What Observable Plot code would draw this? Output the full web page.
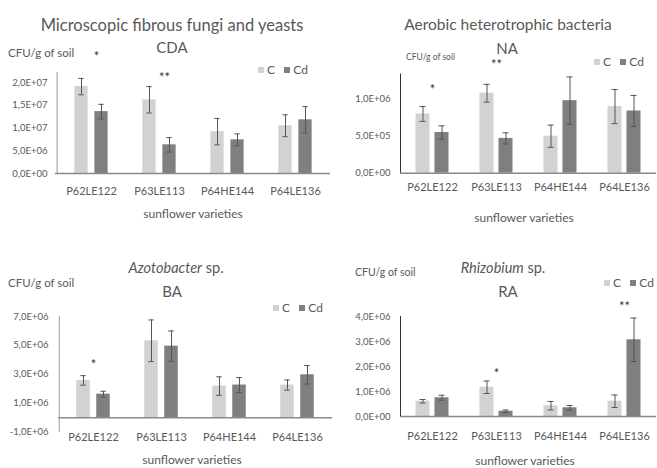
<!DOCTYPE html>
<html>
<head>
<meta charset="utf-8">
<script src="https://cdn.jsdelivr.net/npm/d3@7"></script>
<script src="https://cdn.jsdelivr.net/npm/@observablehq/plot@0.6"></script>
<style>
  html, body { margin: 0; padding: 0; background: #fff; }
  #c { position: relative; width: 657px; height: 468px; overflow: hidden; background: #fff; font-family: Lato, "Open Sans", sans-serif; color: #595959; }
  .t { position: absolute; white-space: nowrap; line-height: 1; }
  .plot { position: absolute; }
  .sw { display: inline-block; width: 6px; height: 6px; margin-right: 3px; vertical-align: 1px; }
</style>
</head>
<body>
<div id="c"></div>
<script>
// ---------- data ----------
const varieties = ["P62LE122", "P63LE113", "P64HE144", "P64LE136"];
const series = ["C", "Cd"];

// Microscopic fibrous fungi and yeasts (CDA)
const CDA_C     = [1.91e7, 1.62e7, 9.2e6, 1.05e7];
const CDA_C_err = [1.8e6, 2.9e6, 2.9e6, 2.4e6];
const CDA_Cd    = [1.36e7, 6.3e6, 7.4e6, 1.18e7];
const CDA_Cd_err= [1.6e6, 1.6e6, 1.3e6, 2.9e6];
const CDA_ticks = [0, 5e6, 1e7, 1.5e7, 2e7];
const CDA_stars = [{variety: "P62LE122", y: 2.62e7, label: "*"}, {variety: "P63LE113", y: 2.16e7, label: "**"}];

// Aerobic heterotrophic bacteria (NA)
const NA_C      = [0.80e6, 1.08e6, 0.50e6, 0.90e6];
const NA_C_err  = [0.10e6, 0.12e6, 0.15e6, 0.23e6];
const NA_Cd     = [0.55e6, 0.47e6, 0.98e6, 0.84e6];
const NA_Cd_err = [0.09e6, 0.075e6, 0.32e6, 0.21e6];
const NA_ticks  = [0, 5e5, 1e6];
const NA_stars  = [{variety: "P62LE122", y: 1.17e6, label: "*"}, {variety: "P63LE113", y: 1.50e6, label: "**"}];

// Azotobacter sp. (BA)
const BA_C      = [2.58e6, 5.32e6, 2.19e6, 2.26e6];
const BA_C_err  = [0.33e6, 1.44e6, 0.64e6, 0.35e6];
const BA_Cd     = [1.63e6, 4.95e6, 2.26e6, 2.97e6];
const BA_Cd_err = [0.20e6, 1.05e6, 0.52e6, 0.64e6];
const BA_ticks  = [-1e6, 1e6, 3e6, 5e6, 7e6];
const BA_stars  = [{variety: "P62LE122", y: 3.87e6, label: "*"}];

// Rhizobium sp. (RA)
const RA_C      = [0.61e6, 1.17e6, 0.43e6, 0.61e6];
const RA_C_err  = [0.07e6, 0.25e6, 0.17e6, 0.25e6];
const RA_Cd     = [0.75e6, 0.21e6, 0.35e6, 3.07e6];
const RA_Cd_err = [0.10e6, 0.05e6, 0.09e6, 0.87e6];
const RA_ticks  = [0, 1e6, 2e6, 3e6, 4e6];
const RA_stars  = [{variety: "P63LE113", y: 1.84e6, label: "*"}, {variety: "P64LE136", y: 4.52e6, label: "**"}];

const unitLabel = "CFU/g of soil";
const xTitle = "sunflower varieties";

// ---------- helpers ----------
const FONT = 'Lato, "Open Sans", sans-serif';
const colC = "#d2d2d2", colCd = "#7f7f7f";
const root = document.getElementById("c");

function sci(v) {
  if (v === 0) return "0,0E+00";
  const s = v < 0 ? "-" : "";
  const a = Math.abs(v);
  const e = Math.floor(Math.log10(a) + 1e-9);
  const m = a / Math.pow(10, e);
  return s + m.toFixed(1).replace(".", ",") + "E" + (e < 0 ? "-" : "+") + String(Math.abs(e)).padStart(2, "0");
}

function text(html, x, y, size, opts = {}) {
  const d = document.createElement("div");
  d.className = "t";
  d.innerHTML = html;
  d.style.left = x + "px";
  d.style.top = y + "px";
  d.style.fontSize = size + "px";
  d.style.transform = opts.left ? "translate(0,-50%)" : "translate(-50%,-50%)";
  if (opts.color) d.style.color = opts.color;
  root.appendChild(d);
}

function legend(x, y) {
  text(`<span class="sw" style="background:${colC}"></span>${series[0]}&nbsp;&nbsp;&nbsp;<span class="sw" style="background:${colCd}"></span>${series[1]}`, x, y, 12, {left: true});
}

function rows(vals, errs) {
  return varieties.map((v, i) => ({variety: v, value: vals[i], err: errs[i]}));
}

function panel(cfg) {
  const {left, top, width, height, ml, mr, mt, mb, domain, ticks, C, Cerr, Cd, Cderr, stars,
         off, labPad, tickPad, axisColor, starDx} = cfg;
  const bw = (width - ml - mr) / varieties.length;
  const barW = 14;
  const ins = (bw - barW) / 2;
  const capIns = bw / 2 - 3;
  const rc = rows(C, Cerr), rd = rows(Cd, Cderr);
  const errMarks = (data, dx) => [
    Plot.ruleX(data, {x: "variety", y1: d => d.value - d.err, y2: d => d.value + d.err, dx, stroke: "#555", strokeWidth: 1}),
    Plot.tickY(data, {x: "variety", y: d => d.value + d.err, dx, insetLeft: capIns, insetRight: capIns, stroke: "#555", strokeWidth: 1}),
    Plot.tickY(data, {x: "variety", y: d => d.value - d.err, dx, insetLeft: capIns, insetRight: capIns, stroke: "#555", strokeWidth: 1})
  ];
  const p = Plot.plot({
    width, height,
    marginLeft: ml, marginRight: mr, marginTop: mt, marginBottom: mb,
    style: {fontFamily: FONT, fontSize: "9.5px", color: "#595959", background: "transparent", overflow: "visible"},
    x: {domain: varieties, padding: 0, axis: null},
    y: {domain, ticks, tickFormat: sci, tickSize: 0, tickPadding: tickPad, label: null},
    marks: [
      Plot.barY(rc, {x: "variety", y: "value", fill: colC, insetLeft: ins, insetRight: ins, dx: -off}),
      Plot.barY(rd, {x: "variety", y: "value", fill: colCd, insetLeft: ins, insetRight: ins, dx: off}),
      ...errMarks(rc, -off),
      ...errMarks(rd, off),
      Plot.ruleY([0], {stroke: "#8a8a8a", strokeWidth: 1.5}),
      Plot.ruleX([varieties[0]], {dx: -bw / 2, stroke: axisColor, strokeWidth: 1}),
      Plot.text(varieties, {x: d => d, frameAnchor: "bottom", lineAnchor: "top", dy: labPad, fontSize: 11, fill: "#595959"}),
      Plot.text(stars, {x: "variety", y: "y", text: "label", fontSize: 13, fill: "#333", dx: starDx || 0, dy: 3})
    ]
  });
  p.classList.add("plot");
  p.style.left = left + "px";
  p.style.top = top + "px";
  root.appendChild(p);
}

// ---------- panels ----------
panel({left: 0, top: 0, width: 330, height: 230, ml: 55, mr: 0, mt: 72, mb: 57,
       domain: [0, 2.22e7], ticks: CDA_ticks, C: CDA_C, Cerr: CDA_C_err, Cd: CDA_Cd, Cderr: CDA_Cd_err,
       stars: CDA_stars, off: 10, labPad: 13.5, tickPad: 8, axisColor: "#9a9a9a", starDx: 5});
panel({left: 330, top: 0, width: 327, height: 230, ml: 70, mr: 1, mt: 73.5, mb: 57.3,
       domain: [0, 1.34e6], ticks: NA_ticks, C: NA_C, Cerr: NA_C_err, Cd: NA_Cd, Cderr: NA_Cd_err,
       stars: NA_stars, off: 9.5, labPad: 9.5, tickPad: 10, axisColor: "#333"});
panel({left: 0, top: 230, width: 332, height: 238, ml: 58, mr: 0, mt: 86, mb: 36.3,
       domain: [-1e6, 7e6], ticks: BA_ticks, C: BA_C, Cerr: BA_C_err, Cd: BA_Cd, Cderr: BA_Cd_err,
       stars: BA_stars, off: 10, labPad: 1, tickPad: 10, axisColor: "#9a9a9a"});
panel({left: 330, top: 230, width: 327, height: 238, ml: 70, mr: 1, mt: 86, mb: 52,
       domain: [0, 4e6], ticks: RA_ticks, C: RA_C, Cerr: RA_C_err, Cd: RA_Cd, Cderr: RA_Cd_err,
       stars: RA_stars, off: 9.5, labPad: 15.5, tickPad: 10, axisColor: "#333"});

// ---------- titles and labels ----------
text("Microscopic fibrous fungi and yeasts", 172, 25, 16.5);
text("CDA", 172, 47, 15);
text("Aerobic heterotrophic bacteria", 508, 25, 15.5);
text("NA", 507, 48, 15);
text("<i>Azotobacter</i> sp.", 176, 268, 14.5);
text("BA", 172, 291, 15);
text("<i>Rhizobium</i> sp.", 503, 268, 14.5);
text("RA", 508, 291, 15);

text(unitLabel, 8, 53, 11.5, {left: true});
text(unitLabel, 406, 57, 8.5, {left: true});
text(unitLabel, 8, 283, 11.5, {left: true});
text(unitLabel, 355, 272, 10.5, {left: true});

text(xTitle, 193, 214, 12);
text(xTitle, 524, 218, 12);
text(xTitle, 192, 460, 12);
text(xTitle, 525, 461, 12);

legend(258, 70);
legend(594, 62);
legend(273, 308);
legend(604, 283);
</script>
</body>
</html>
